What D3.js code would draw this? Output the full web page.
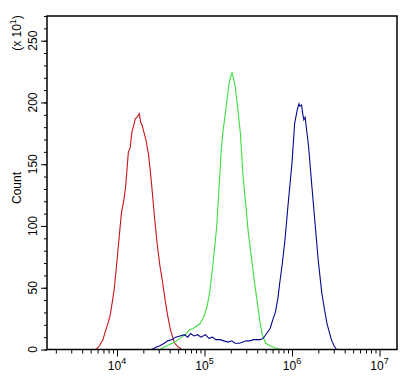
<!DOCTYPE html>
<html>
<head>
<meta charset="utf-8">
<script src="https://cdn.jsdelivr.net/npm/d3@7"></script>
<style>
  body { margin: 0; background: #fff; }
  text { font-family: "Liberation Sans", Arial, sans-serif; font-size: 12px; fill: #000; }
</style>
</head>
<body>
<div id="chart"></div>
<script>
// histogram values, x as log10 of fluorescence, y in units of 10 events
const redLog = [3.76, 3.80, 3.84, 3.86, 3.90, 3.92, 3.95, 3.97, 4.00, 4.03, 4.05, 4.08, 4.10, 4.13, 4.15, 4.17, 4.19, 4.21, 4.23, 4.255, 4.27, 4.29, 4.30, 4.33, 4.36, 4.38, 4.40, 4.43, 4.46, 4.49, 4.52, 4.55, 4.58, 4.61, 4.64, 4.66, 4.70, 4.74];
const redCount = [0, 3, 8, 13, 22, 27, 40, 50, 72, 95, 110, 122, 133, 160, 163, 176, 181, 187, 188, 191, 184, 181, 178, 170, 158, 145, 130, 106, 85, 68, 55, 40, 27, 16, 9, 5, 2, 0];

const greenLog = [4.49, 4.57, 4.66, 4.72, 4.78, 4.83, 4.87, 4.91, 4.95, 4.99, 5.03, 5.06, 5.09, 5.12, 5.14, 5.17, 5.19, 5.21, 5.24, 5.26, 5.28, 5.30, 5.315, 5.33, 5.35, 5.38, 5.41, 5.44, 5.47, 5.50, 5.54, 5.57, 5.60, 5.63, 5.66, 5.70, 5.75, 5.82, 5.90];
const greenCount = [0, 3, 6, 9, 12, 16, 17, 19, 21, 26, 35, 47, 65, 85, 100, 135, 160, 176, 192, 204, 215, 221, 224, 220, 213, 195, 175, 141, 118, 95, 72, 55, 40, 24, 12, 5, 3, 1, 0];

const blueLog = [4.40, 4.45, 4.49, 4.54, 4.58, 4.63, 4.67, 4.72, 4.77, 4.81, 4.84, 4.88, 4.92, 4.96, 5.01, 5.05, 5.09, 5.13, 5.18, 5.22, 5.27, 5.31, 5.35, 5.40, 5.44, 5.48, 5.52, 5.56, 5.60, 5.64, 5.67, 5.71, 5.75, 5.78, 5.81, 5.84, 5.86, 5.89, 5.92, 5.96, 6.00, 6.03, 6.06, 6.08, 6.09, 6.11, 6.12, 6.135, 6.15, 6.19, 6.22, 6.26, 6.30, 6.34, 6.37, 6.40, 6.45, 6.48, 6.51];
const blueCount = [0, 2, 3, 5, 7, 8, 10, 11, 12, 10, 13, 11, 12, 10, 12, 9, 10, 8, 8, 7, 6, 7, 5, 5, 6, 7, 7, 8, 8, 8, 9, 13, 17, 24, 30, 42, 54, 70, 89, 121, 151, 183, 194, 199, 197, 198, 192, 186, 188, 164, 138, 105, 72, 46, 33, 21, 8, 3, 0];

const xDecades = [4, 5, 6, 7];
const yMajorTicks = [0, 50, 100, 150, 200, 250];
const yMinorTicks = d3.range(0, 271, 10);

function drawChart() {
    const width = 420, height = 377;
    const left = 47, right = 397, top = 16, bottom = 349.5;

    const svg = d3.select("#chart").append("svg")
        .attr("width", width)
        .attr("height", height);

    const x = d3.scaleLog()
        .domain([Math.pow(10, 3.2), Math.pow(10, 7.2)])
        .range([left, right]);
    const y = d3.scaleLinear()
        .domain([0, 270])
        .range([bottom, top]);

    // minor ticks 2..9 in each decade inside the domain
    const xMinor = [];
    [3, 4, 5, 6].forEach(e => {
        for (let k = 2; k <= 9; k++) {
            const v = k * Math.pow(10, e);
            if (v >= x.domain()[0] && v <= x.domain()[1]) xMinor.push(v);
        }
    });

    const tickStyle = g => {
        g.select(".domain").remove();
        g.selectAll("line").attr("stroke", "#000").attr("stroke-width", 1);
        g.selectAll("text").remove();
    };

    svg.append("g")
        .attr("transform", `translate(0,${bottom})`)
        .call(d3.axisBottom(x).tickValues(xMinor).tickSize(4))
        .call(tickStyle);
    svg.append("g")
        .attr("transform", `translate(0,${bottom})`)
        .call(d3.axisBottom(x).tickValues(xDecades.map(e => Math.pow(10, e))).tickSize(7))
        .call(tickStyle);

    svg.append("g")
        .attr("transform", `translate(${left},0)`)
        .call(d3.axisLeft(y).tickValues(yMinorTicks).tickSize(3))
        .call(tickStyle);
    svg.append("g")
        .attr("transform", `translate(${left},0)`)
        .call(d3.axisLeft(y).tickValues(yMajorTicks).tickSize(6))
        .call(tickStyle);

    // x labels 10^n
    const xl = svg.append("g").selectAll("text")
        .data(xDecades)
        .enter()
        .append("text")
        .attr("x", d => x(Math.pow(10, d)))
        .attr("y", 370)
        .attr("text-anchor", "middle");
    xl.append("tspan").text("10");
    xl.append("tspan")
        .attr("dy", -6)
        .style("font-size", "9px")
        .text(d => d);

    // y labels, rotated
    svg.append("g").selectAll("text")
        .data(yMajorTicks)
        .enter()
        .append("text")
        .attr("transform", d => `translate(37,${y(d)}) rotate(-90)`)
        .attr("text-anchor", "middle")
        .text(d => d);

    svg.append("text")
        .attr("transform", "translate(21,188) rotate(-90)")
        .attr("text-anchor", "middle")
        .text("Count");

    const mult = svg.append("text")
        .attr("transform", "translate(21,33) rotate(-90)")
        .attr("text-anchor", "middle");
    mult.append("tspan").text("(x 10");
    mult.append("tspan").attr("dy", -5).style("font-size", "9px").text("1");
    mult.append("tspan").attr("dy", 5).text(")");

    const line = d3.line()
        .x(d => x(Math.pow(10, d[0])))
        .y(d => y(d[1]));

    const series = [
        { logs: redLog, counts: redCount, color: "#c8141e" },
        { logs: greenLog, counts: greenCount, color: "#3ee03e" },
        { logs: blueLog, counts: blueCount, color: "#06068c" }
    ];
    series.forEach(s => {
        svg.append("path")
            .datum(d3.zip(s.logs, s.counts))
            .attr("d", line)
            .attr("fill", "none")
            .attr("stroke", s.color)
            .attr("stroke-width", 1.1);
    });

    // plot frame
    svg.append("rect")
        .attr("x", left)
        .attr("y", top)
        .attr("width", right - left)
        .attr("height", bottom - top)
        .attr("fill", "none")
        .attr("stroke", "#000")
        .attr("stroke-width", 1.5);
}

drawChart();
</script>
</body>
</html>
